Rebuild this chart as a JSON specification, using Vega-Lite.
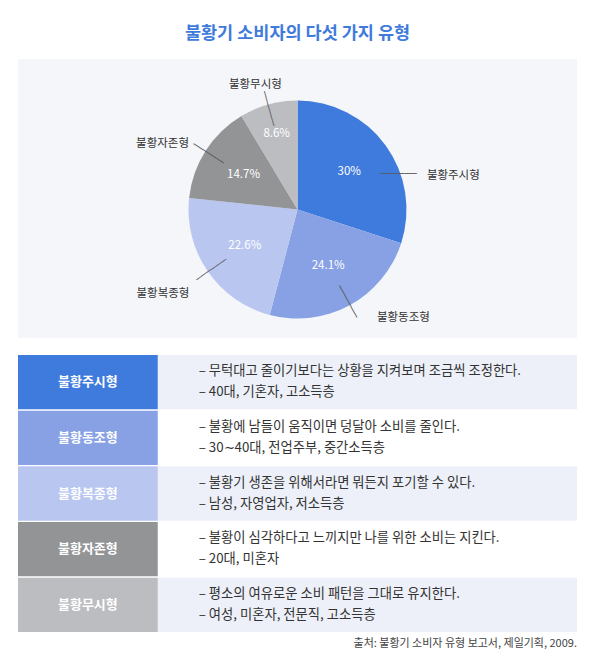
{
  "$schema": "https://vega.github.io/schema/vega-lite/v6.json",
  "padding": {"left": 18, "right": 15, "top": 24, "bottom": 0},
  "bounds": "flush",
  "config": {
    "font": "Noto Sans CJK KR",
    "view": {"stroke": null}
  },
  "title": {
    "text": "불황기 소비자의 다섯 가지 유형",
    "fontSize": 17.5,
    "fontWeight": "bold",
    "color": "#3f7bdb",
    "anchor": "middle",
    "offset": 17
  },
  "datasets": {
    "types": [
      {"type": "불황주시형", "share": 0.3, "desc1": "– 무턱대고 줄이기보다는 상황을 지켜보며 조금씩 조정한다.", "desc2": "– 40대, 기혼자, 고소득층"},
      {"type": "불황동조형", "share": 0.241, "desc1": "– 불황에 남들이 움직이면 덩달아 소비를 줄인다.", "desc2": "– 30∼40대, 전업주부, 중간소득층"},
      {"type": "불황복종형", "share": 0.226, "desc1": "– 불황기 생존을 위해서라면 뭐든지 포기할 수 있다.", "desc2": "– 남성, 자영업자, 저소득층"},
      {"type": "불황자존형", "share": 0.147, "desc1": "– 불황이 심각하다고 느끼지만 나를 위한 소비는 지킨다.", "desc2": "– 20대, 미혼자"},
      {"type": "불황무시형", "share": 0.086, "desc1": "– 평소의 여유로운 소비 패턴을 그대로 유지한다.", "desc2": "– 여성, 미혼자, 전문직, 고소득층"}
    ]
  },
  "spacing": 17,
  "vconcat": [
    {
      "width": 559,
      "height": 279,
      "view": {"fill": "#f5f6fa", "stroke": null},
      "data": {"name": "types"},
      "transform": [
        {"window": [{"op": "row_number", "as": "idx"}]}
      ],
      "encoding": {
        "theta": {"field": "share", "type": "quantitative", "stack": true},
        "order": {"field": "idx", "type": "quantitative"}
      },
      "layer": [
        {
          "mark": {"type": "arc", "outerRadius": 109, "yOffset": 11},
          "encoding": {
            "color": {
              "field": "type",
              "type": "nominal",
              "scale": {
                "domain": ["불황주시형", "불황동조형", "불황복종형", "불황자존형", "불황무시형"],
                "range": ["#3f7bdc", "#87a1e4", "#b9c6f0", "#939496", "#bcbdc1"]
              },
              "legend": null
            }
          }
        },
        {
          "mark": {"type": "text", "radius": 105, "yOffset": 11, "font": "DejaVu Sans Mono", "fontSize": 10, "fill": "#5a5a5a"},
          "encoding": {
            "text": {
              "condition": {"test": "datum.type !== '불황주시형'", "value": "──────"},
              "value": ""
            },
            "angle": {
              "field": "type",
              "type": "nominal",
              "scale": {
                "type": "ordinal",
                "domain": ["불황주시형", "불황동조형", "불황복종형", "불황자존형", "불황무시형"],
                "range": [0, 61.4, 145.4, 212.6, 254.5]
              },
              "legend": null
            }
          }
        },
        {
          "mark": {"type": "text", "radius": 107, "thetaOffset": 0.295, "yOffset": 11, "font": "DejaVu Sans Mono", "fontSize": 10, "fill": "#5a5a5a"},
          "encoding": {
            "text": {
              "condition": {"test": "datum.type === '불황주시형'", "value": "──────"},
              "value": ""
            }
          }
        },
        {
          "mark": {"type": "text", "radius": 64, "yOffset": 11, "fill": "white", "fontSize": 11.5},
          "encoding": {
            "text": {
              "condition": {"test": "datum.type !== '불황무시형'", "field": "share", "type": "quantitative", "format": ".1~%"},
              "value": ""
            }
          }
        },
        {
          "mark": {"type": "text", "radius": 78, "yOffset": 11, "fill": "white", "fontSize": 11.5},
          "encoding": {
            "text": {
              "condition": {"test": "datum.type === '불황무시형'", "field": "share", "type": "quantitative", "format": ".1~%"},
              "value": ""
            }
          }
        },
        {
          "mark": {"type": "text", "radius": 134, "thetaOffset": 0.365, "yOffset": 11, "align": "left", "dy": 1, "fill": "#333333", "fontSize": 11.5},
          "encoding": {
            "text": {
              "condition": {"test": "datum.type === '불황주시형'", "field": "type", "type": "nominal"},
              "value": ""
            }
          }
        },
        {
          "mark": {"type": "text", "radius": 124, "yOffset": 11, "align": "left", "dx": 20, "dy": 0, "fill": "#333333", "fontSize": 11.5},
          "encoding": {
            "text": {
              "condition": {"test": "datum.type === '불황동조형'", "field": "type", "type": "nominal"},
              "value": ""
            }
          }
        },
        {
          "mark": {"type": "text", "radius": 124, "yOffset": 11, "align": "right", "dx": -6, "dy": 14, "fill": "#333333", "fontSize": 11.5},
          "encoding": {
            "text": {
              "condition": {"test": "datum.type === '불황복종형'", "field": "type", "type": "nominal"},
              "value": ""
            }
          }
        },
        {
          "mark": {"type": "text", "radius": 124, "yOffset": 11, "align": "right", "dx": -4, "dy": 1, "fill": "#333333", "fontSize": 11.5},
          "encoding": {
            "text": {
              "condition": {"test": "datum.type === '불황자존형'", "field": "type", "type": "nominal"},
              "value": ""
            }
          }
        },
        {
          "mark": {"type": "text", "radius": 124, "yOffset": 11, "align": "center", "dx": -9, "dy": -5, "fill": "#333333", "fontSize": 11.5},
          "encoding": {
            "text": {
              "condition": {"test": "datum.type === '불황무시형'", "field": "type", "type": "nominal"},
              "value": ""
            }
          }
        }
      ]
    },
    {
      "width": 559,
      "height": 277,
      "data": {"name": "types"},
      "title": {
        "text": "출처: 불황기 소비자 유형 보고서, 제일기획, 2009.",
        "orient": "bottom",
        "anchor": "end",
        "fontSize": 11,
        "fontWeight": "normal",
        "color": "#444444",
        "offset": 6
      },
      "encoding": {
        "y": {
          "field": "type",
          "type": "nominal",
          "sort": null,
          "scale": {"paddingInner": 0.025, "paddingOuter": 0},
          "axis": null
        }
      },
      "layer": [
        {
          "mark": {"type": "rect"},
          "encoding": {
            "x": {"datum": 1, "type": "quantitative", "scale": {"domain": [0, 4], "nice": false}, "axis": null},
            "x2": {"datum": 4},
            "fill": {
              "field": "type",
              "type": "nominal",
              "scale": {
                "domain": ["불황주시형", "불황동조형", "불황복종형", "불황자존형", "불황무시형"],
                "range": ["#edf0f8", "#ffffff", "#edf0f8", "#ffffff", "#edf0f8"]
              },
              "legend": null
            }
          }
        },
        {
          "mark": {"type": "rect"},
          "encoding": {
            "x": {"datum": 0, "type": "quantitative"},
            "x2": {"datum": 1},
            "color": {
              "field": "type",
              "type": "nominal",
              "scale": {
                "domain": ["불황주시형", "불황동조형", "불황복종형", "불황자존형", "불황무시형"],
                "range": ["#3f7bdc", "#87a1e4", "#b9c6f0", "#939496", "#bcbdc1"]
              },
              "legend": null
            }
          }
        },
        {
          "mark": {"type": "text", "fill": "white", "fontSize": 13, "fontWeight": "bold"},
          "encoding": {
            "x": {"datum": 0.5, "type": "quantitative"},
            "text": {"field": "type", "type": "nominal"}
          }
        },
        {
          "mark": {"type": "text", "align": "left", "dx": 41, "dy": -11, "fill": "#333333", "fontSize": 13.3},
          "encoding": {
            "x": {"datum": 1, "type": "quantitative"},
            "text": {"field": "desc1", "type": "nominal"}
          }
        },
        {
          "mark": {"type": "text", "align": "left", "dx": 41, "dy": 10, "fill": "#333333", "fontSize": 13.3},
          "encoding": {
            "x": {"datum": 1, "type": "quantitative"},
            "text": {"field": "desc2", "type": "nominal"}
          }
        }
      ]
    }
  ]
}
